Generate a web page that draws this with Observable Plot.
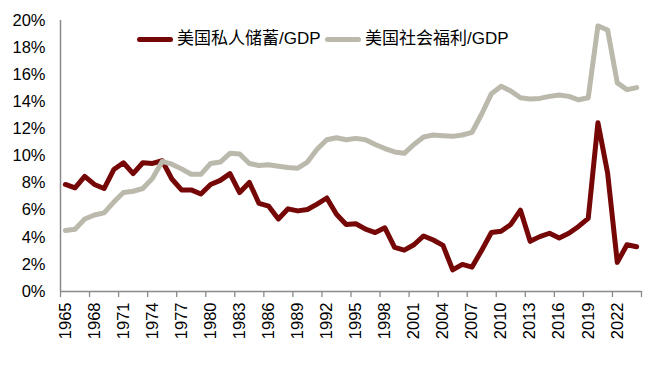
<!DOCTYPE html>
<html>
<head>
<meta charset="utf-8">
<script src="https://cdn.jsdelivr.net/npm/d3@7"></script>
<script src="https://cdn.jsdelivr.net/npm/@observablehq/plot@0.6"></script>
<style>
  html, body { margin: 0; padding: 0; background: #fff; }
  #wrap { position: relative; width: 660px; height: 391px; font-family: Arial, "Liberation Sans", "Noto Sans CJK SC", sans-serif; }
  .lg-line { position: absolute; height: 5px; border-radius: 2.5px; }
  .lg-text { position: absolute; font-size: 17px; line-height: 20px; color: #000; white-space: nowrap; }
</style>
</head>
<body>
<div id="wrap"></div>
<script>
const years = [1965,1966,1967,1968,1969,1970,1971,1972,1973,1974,1975,1976,1977,1978,1979,1980,1981,1982,1983,1984,1985,1986,1987,1988,1989,1990,1991,1992,1993,1994,1995,1996,1997,1998,1999,2000,2001,2002,2003,2004,2005,2006,2007,2008,2009,2010,2011,2012,2013,2014,2015,2016,2017,2018,2019,2020,2021,2022,2023,2024];
const savings = [7.9,7.65,8.5,7.9,7.6,9.0,9.5,8.7,9.5,9.45,9.65,8.3,7.5,7.5,7.2,7.9,8.2,8.7,7.3,8.05,6.5,6.3,5.35,6.1,5.95,6.05,6.45,6.9,5.7,4.95,5.0,4.6,4.35,4.7,3.25,3.05,3.45,4.1,3.8,3.4,1.6,2.0,1.8,3.05,4.35,4.45,4.95,6.0,3.7,4.05,4.3,3.95,4.3,4.8,5.4,12.45,8.75,2.15,3.45,3.3];
const welfare = [4.5,4.6,5.35,5.65,5.8,6.6,7.3,7.4,7.6,8.35,9.6,9.4,9.05,8.65,8.65,9.45,9.55,10.2,10.15,9.45,9.3,9.35,9.25,9.15,9.1,9.55,10.5,11.2,11.35,11.2,11.3,11.2,10.85,10.55,10.3,10.2,10.85,11.4,11.55,11.5,11.45,11.55,11.75,13.1,14.6,15.15,14.8,14.3,14.2,14.25,14.4,14.5,14.4,14.15,14.3,19.6,19.3,15.4,14.9,15.05];
const seriesNames = ["美国私人储蓄/GDP", "美国社会福利/GDP"];
const seriesColors = ["#760707", "#bab9ac"];
const xLabelYears = [1965,1968,1971,1974,1977,1980,1983,1986,1989,1992,1995,1998,2001,2004,2007,2010,2013,2016,2019,2022];
const xTickBoundaries = [1964.5,1967.5,1970.5,1973.5,1976.5,1979.5,1982.5,1985.5,1988.5,1991.5,1994.5,1997.5,2000.5,2003.5,2006.5,2009.5,2012.5,2015.5,2018.5,2021.5,2024.5];
const yTicks = [0,2,4,6,8,10,12,14,16,18,20];

const data = [
  ...years.map((y, i) => ({year: y, value: savings[i], series: seriesNames[0]})),
  ...years.map((y, i) => ({year: y, value: welfare[i], series: seriesNames[1]}))
];

const fontFamily = 'Arial, "Liberation Sans", "Noto Sans CJK SC", sans-serif';

const chart = Plot.plot({
  width: 660,
  height: 391,
  marginLeft: 60,
  marginRight: 19,
  marginTop: 20,
  marginBottom: 100,
  style: {fontFamily, fontSize: "16.5px", color: "#000", background: "#fff"},
  x: {type: "linear", domain: [1964.5, 2024.5]},
  y: {domain: [0, 20]},
  color: {domain: seriesNames, range: seriesColors},
  marks: [
    Plot.axisY({ticks: yTicks, tickSize: 0, tickPadding: 15, tickFormat: d => d + "%", label: null, fontSize: 16.5}),
    Plot.axisX({ticks: xTickBoundaries, tickSize: 6, tickFormat: () => "", label: null, stroke: "#8a8a8a", strokeWidth: 1.3}),
    Plot.axisX({ticks: xLabelYears, tickSize: 0, tickPadding: 11, tickRotate: -90, tickFormat: d => String(d), label: null, fontSize: 16.5}),
    Plot.ruleY([0], {stroke: "#8a8a8a", strokeWidth: 1.5}),
    Plot.ruleX([1964.5], {stroke: "#8a8a8a", strokeWidth: 1.5}),
    Plot.line(data, {x: "year", y: "value", z: "series", stroke: "series", strokeWidth: 5, strokeLinejoin: "round", strokeLinecap: "round"})
  ]
});

const wrap = document.getElementById("wrap");
wrap.appendChild(chart);

const legendItems = [
  {name: seriesNames[0], color: seriesColors[0], lineLeft: 137, textLeft: 177},
  {name: seriesNames[1], color: seriesColors[1], lineLeft: 325, textLeft: 365}
];
for (const it of legendItems) {
  const l = document.createElement("div");
  l.className = "lg-line";
  l.style.left = it.lineLeft + "px";
  l.style.top = "36.5px";
  l.style.width = "36px";
  l.style.background = it.color;
  wrap.appendChild(l);
  const t = document.createElement("div");
  t.className = "lg-text";
  t.style.left = it.textLeft + "px";
  t.style.top = "29px";
  t.textContent = it.name;
  wrap.appendChild(t);
}
</script>
</body>
</html>
